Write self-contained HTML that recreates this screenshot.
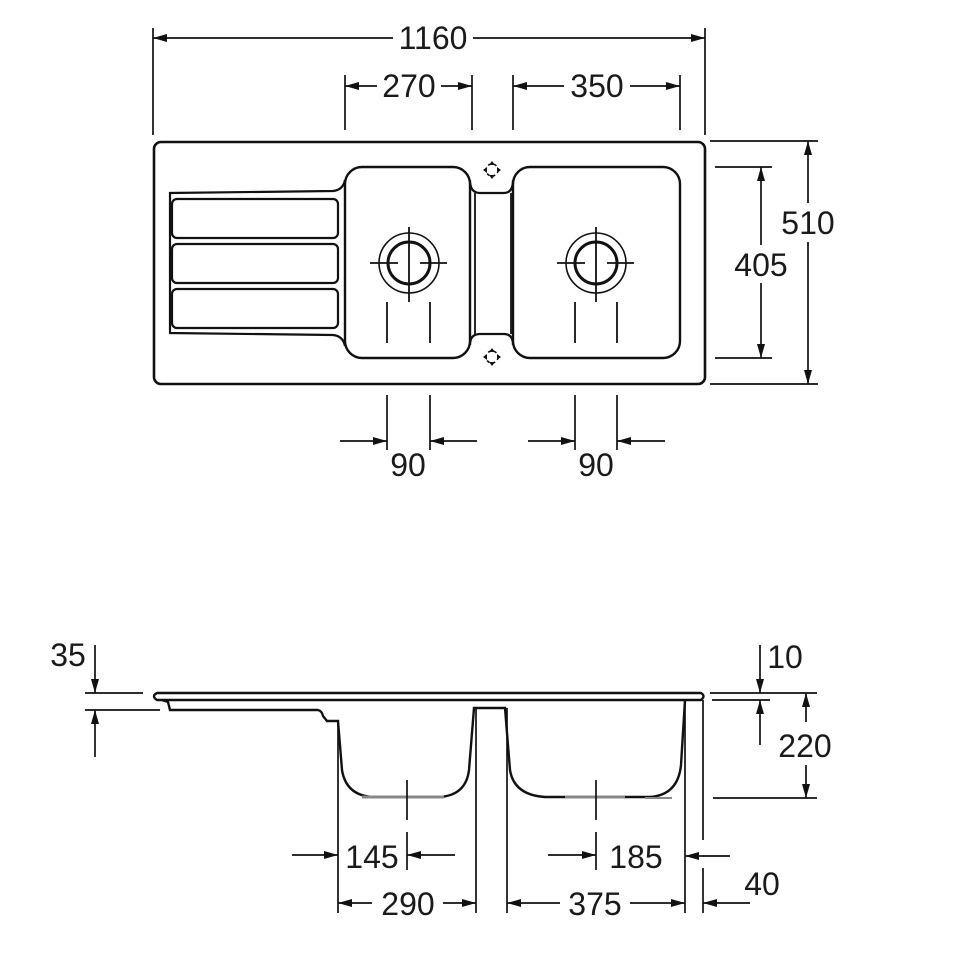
<!DOCTYPE html>
<html><head><meta charset="utf-8"><style>
html,body{margin:0;padding:0;background:#fff}
svg{display:block}
text{font-family:"Liberation Sans",Arial,sans-serif;font-size:32px;fill:#1a1a1a}
</style></head><body>
<svg width="970" height="971" viewBox="0 0 970 971" xmlns="http://www.w3.org/2000/svg">
<defs>
<marker id="a" viewBox="0 0 14 9" refX="14" refY="4.5" markerWidth="14" markerHeight="9" markerUnits="userSpaceOnUse" orient="auto"><path d="M0,0.5 L14,4.5 L0,8.5z" fill="#111"/></marker>
</defs>
<g stroke="#111" fill="none" stroke-width="1.7">
<!-- ===== TOP VIEW ===== -->
<line x1="153" y1="28" x2="153" y2="135"/><line x1="705" y1="28" x2="705" y2="135"/>
<line x1="393" y1="38" x2="153" y2="38" marker-end="url(#a)"/>
<line x1="473" y1="38" x2="705" y2="38" marker-end="url(#a)"/>
<line x1="345" y1="75" x2="345" y2="130"/><line x1="472" y1="75" x2="472" y2="130"/>
<line x1="377" y1="86" x2="345" y2="86" marker-end="url(#a)"/>
<line x1="441" y1="86" x2="472" y2="86" marker-end="url(#a)"/>
<line x1="513" y1="75" x2="513" y2="130"/><line x1="680" y1="75" x2="680" y2="130"/>
<line x1="564" y1="86" x2="513" y2="86" marker-end="url(#a)"/>
<line x1="630" y1="86" x2="680" y2="86" marker-end="url(#a)"/>
<line x1="710" y1="141" x2="818" y2="141"/><line x1="710" y1="384" x2="818" y2="384"/>
<line x1="808" y1="203" x2="808" y2="141" marker-end="url(#a)"/>
<line x1="808" y1="242" x2="808" y2="384" marker-end="url(#a)"/>
<line x1="715" y1="167" x2="772" y2="167"/><line x1="715" y1="358" x2="772" y2="358"/>
<line x1="761" y1="245" x2="761" y2="167" marker-end="url(#a)"/>
<line x1="761" y1="283" x2="761" y2="358" marker-end="url(#a)"/>
<line x1="387" y1="395" x2="387" y2="450"/><line x1="430" y1="395" x2="430" y2="450"/>
<line x1="340" y1="441" x2="387" y2="441" marker-end="url(#a)"/>
<line x1="477" y1="441" x2="430" y2="441" marker-end="url(#a)"/>
<line x1="575" y1="395" x2="575" y2="450"/><line x1="617" y1="395" x2="617" y2="450"/>
<line x1="528" y1="441" x2="575" y2="441" marker-end="url(#a)"/>
<line x1="665" y1="441" x2="617" y2="441" marker-end="url(#a)"/>

<rect x="154" y="142" width="551" height="242" rx="7" stroke-width="2.6"/>
<path d="M345,180 Q343,190 333,191 L170,193 L170,333 L333,335 Q343,336 345,346" stroke-width="2.2"/>
<rect x="172" y="199" width="166" height="39" rx="5" stroke-width="2.2"/>
<rect x="172" y="244" width="166" height="39" rx="5" stroke-width="2.2"/>
<rect x="172" y="289" width="166" height="39" rx="5" stroke-width="2.2"/>
<rect x="345" y="167" width="125" height="191" rx="17" stroke-width="2.4"/>
<rect x="513" y="167" width="167" height="191" rx="17" stroke-width="2.4"/>
<path d="M470,180 Q470,193 480,193 L504,193 Q513,193 513,180" stroke-width="2.2"/>
<path d="M470,345 Q470,334 480,334 L504,334 Q513,334 513,345" stroke-width="2.2"/>
<line x1="475" y1="193" x2="475" y2="334" stroke-width="1.8"/>
<line x1="511" y1="193" x2="511" y2="334" stroke-width="1.8"/>
<g stroke-width="1.6">
<circle cx="492" cy="170" r="6" stroke-dasharray="3 3"/>
<circle cx="492" cy="357" r="6" stroke-dasharray="3 3"/>
</g>
<g fill="#111" stroke="none">
<path d="M492,161 l-3,4 h6z M492,179 l-3,-4 h6z M483,170 l4,-3 v6z M501,170 l-4,-3 v6z"/>
<path d="M492,348 l-3,4 h6z M492,366 l-3,-4 h6z M483,357 l4,-3 v6z M501,357 l-4,-3 v6z"/>
</g>
<circle cx="409" cy="263" r="30" stroke-width="1.6"/>
<circle cx="409" cy="263" r="21" stroke-width="3"/>
<line x1="409" y1="227" x2="409" y2="302" stroke-width="1.8"/>
<line x1="370" y1="263" x2="398" y2="263" stroke-width="1.8"/><line x1="420" y1="263" x2="447" y2="263" stroke-width="1.8"/>
<circle cx="596" cy="263" r="30" stroke-width="1.6"/>
<circle cx="596" cy="263" r="21" stroke-width="3"/>
<line x1="596" y1="227" x2="596" y2="302" stroke-width="1.8"/>
<line x1="557" y1="263" x2="585" y2="263" stroke-width="1.8"/><line x1="607" y1="263" x2="634" y2="263" stroke-width="1.8"/>
<line x1="387" y1="302" x2="387" y2="343" stroke-width="1.8"/><line x1="430" y1="302" x2="430" y2="343" stroke-width="1.8"/>
<line x1="575" y1="302" x2="575" y2="343" stroke-width="1.8"/><line x1="617" y1="302" x2="617" y2="343" stroke-width="1.8"/>

<!-- ===== SIDE VIEW ===== -->
<path d="M157,693 L701,693 Q706,696 701,700 L157,700 Q151,696 157,693z" stroke-width="2.4"/>
<path d="M162,700 L168,702 L170,710 L318,710 Q322,711 323,716 L327,721 L338,721 L342,770 Q346,795 372,797 L440,797 Q466,795 469,770 L474,708 L505,708 L510,770 Q514,795 545,797 L650,797 Q678,795 681,765 L685,700" stroke-width="2.4"/>
<line x1="362" y1="797" x2="444" y2="797" stroke="#888" stroke-width="3"/>
<line x1="565" y1="797" x2="625" y2="797" stroke="#888" stroke-width="3"/>
<line x1="645" y1="798" x2="672" y2="798" stroke="#888" stroke-width="2"/>
<line x1="338" y1="721" x2="338" y2="913"/>
<line x1="476" y1="708" x2="476" y2="913"/>
<line x1="507" y1="708" x2="507" y2="913"/>
<line x1="685" y1="700" x2="685" y2="913"/>
<line x1="703" y1="700" x2="703" y2="840"/><line x1="703" y1="868" x2="703" y2="913"/>
<line x1="407" y1="780" x2="407" y2="820"/><line x1="407" y1="832" x2="407" y2="870"/>
<line x1="596" y1="780" x2="596" y2="820"/><line x1="596" y1="832" x2="596" y2="870"/>
<line x1="292" y1="855" x2="338" y2="855" marker-end="url(#a)"/>
<line x1="455" y1="855" x2="407" y2="855" marker-end="url(#a)"/>
<line x1="548" y1="855" x2="596" y2="855" marker-end="url(#a)"/>
<line x1="730" y1="856" x2="685" y2="856" marker-end="url(#a)"/>
<line x1="372" y1="903" x2="338" y2="903" marker-end="url(#a)"/>
<line x1="443" y1="903" x2="476" y2="903" marker-end="url(#a)"/>
<line x1="560" y1="903" x2="507" y2="903" marker-end="url(#a)"/>
<line x1="630" y1="903" x2="685" y2="903" marker-end="url(#a)"/>
<line x1="750" y1="903" x2="703" y2="903" marker-end="url(#a)"/>
<line x1="85" y1="693" x2="143" y2="693"/><line x1="85" y1="710" x2="160" y2="710"/>
<line x1="95" y1="645" x2="95" y2="693" marker-end="url(#a)"/>
<line x1="95" y1="757" x2="95" y2="710" marker-end="url(#a)"/>
<line x1="710" y1="693" x2="817" y2="693"/><line x1="712" y1="700" x2="770" y2="700"/>
<line x1="760" y1="645" x2="760" y2="693" marker-end="url(#a)"/>
<line x1="760" y1="745" x2="760" y2="700" marker-end="url(#a)"/>
<line x1="713" y1="798" x2="817" y2="798"/>
<line x1="806" y1="722" x2="806" y2="693" marker-end="url(#a)"/>
<line x1="806" y1="765" x2="806" y2="798" marker-end="url(#a)"/>
</g>
<g text-anchor="middle">
<text x="433" y="49">1160</text>
<text x="409" y="97">270</text>
<text x="597" y="97">350</text>
<text x="808" y="234">510</text>
<text x="761" y="276">405</text>
<text x="408" y="476">90</text>
<text x="596" y="476">90</text>
<text x="68" y="666">35</text>
<text x="785" y="668">10</text>
<text x="805" y="757">220</text>
<text x="372" y="868">145</text>
<text x="636" y="868">185</text>
<text x="762" y="895">40</text>
<text x="408" y="915">290</text>
<text x="595" y="915">375</text>
</g>
</svg>
</body></html>
